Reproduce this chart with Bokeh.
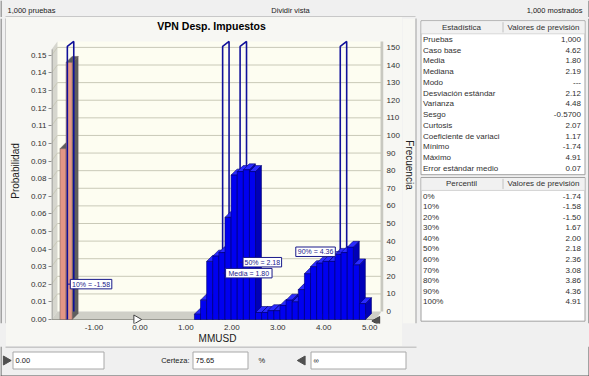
import numpy as np
from bokeh.plotting import figure
from bokeh.layouts import column, row
from bokeh.models import Range1d, LinearAxis, FixedTicker, NumeralTickFormatter
from bokeh.embed import file_html
from bokeh.resources import INLINE
from bokeh.core.properties import value

# ---------------- data ----------------
top_left_text = "1,000 pruebas"
top_mid_text = "Dividir vista"
top_right_text = "1,000 mostrados"
chart_title = "VPN Desp. Impuestos"
x_label = "MMUSD"
y_label = "Probabilidad"
y2_label = "Frecuencia"

n_trials = 1000
range_min = -1.74
range_max = 4.91
bin_counts = [97, 146,
              0, 0, 0, 0, 0, 0, 0, 0, 0, 0, 0, 0, 0, 0, 0, 0, 0, 0, 0, 0,
              3, 11, 33, 36, 38, 58, 82, 84, 85, 84,
              4, 4, 5, 5, 8, 11, 10, 17, 26, 30, 32, 33, 33, 37, 38, 41, 31, 9]
certainty_lower = 0.00
certainty_lower_text = "0.00"
certainty_upper_text = "\u221e"
certainty_label = "Certeza:"
certainty_pct = "75.65"

marker_names = ["10%", "Media", "50%", "90%"]
marker_values = [-1.58, 1.80, 2.18, 4.36]
marker_texts = ["10% = -1.58", "Media = 1.80", "50% = 2.18", "90% = 4.36"]

x_ticks = [-1, 0, 1, 2, 3, 4, 5]
prob_ticks = [0.00, 0.01, 0.02, 0.03, 0.04, 0.05, 0.06, 0.07, 0.08, 0.09, 0.10, 0.11, 0.12, 0.13, 0.14, 0.15]
freq_ticks = [0, 10, 20, 30, 40, 50, 60, 70, 80, 90, 100, 110, 120, 130, 140, 150]

stat_header = ["Estadística", "Valores de previsión"]
stat_names = ["Pruebas", "Caso base", "Media", "Mediana", "Modo", "Desviación estándar", "Varianza",
              "Sesgo", "Curtosis", "Coeficiente de variaci", "Mínimo", "Máximo", "Error estándar medio"]
stat_values = ["1,000", "4.62", "1.80", "2.19", "---", "2.12", "4.48", "-0.5700", "2.07", "1.17",
               "-1.74", "4.91", "0.07"]
pct_header = ["Percentil", "Valores de previsión"]
pct_names = ["0%", "10%", "20%", "30%", "40%", "50%", "60%", "70%", "80%", "90%", "100%"]
pct_values = ["-1.74", "-1.58", "-1.50", "1.67", "2.00", "2.18", "2.36", "3.08", "3.86", "4.36", "4.91"]

# ---------------- style / layout ----------------
FONT = "Liberation Sans"
WIN_BG = "#f0f0f0"
PANEL_BG = "#f7f7f3"
EDGE = "#555555"
W, H = 589, 376
TOP_H = 17
PANEL_B = 346
CH_X0, CH_X1 = 6, 402
FRAME_L, FRAME_R, FRAME_T, FRAME_B = 47, 383, 18, 324


def lin(px, a_px, a_v, b_px, b_v):
    return a_v + (px - a_px) * (b_v - a_v) / (b_px - a_px)


def xv(px):
    return lin(px, 90, -1, 369, 5)


def yv(px):
    return lin(px, 320, 0, 55, 0.15)


PPX = (369 - 90) / 6.0          # px per x unit
PPY = (320 - 55) / 0.15         # px per probability unit
x_start, x_end = xv(FRAME_L), xv(FRAME_R)
y_start, y_end = yv(FRAME_B), yv(FRAME_T)
f_start, f_end = lin(FRAME_B, 312, 0, 47, 150), lin(FRAME_T, 312, 0, 47, 150)


def chrome(w, h, x0, x1, y0, y1, bg=WIN_BG):
    f = figure(width=w, height=h, output_backend="svg", toolbar_location=None,
               x_range=Range1d(x0, x1), y_range=Range1d(y1, y0),
               x_axis_location=None, y_axis_location=None, min_border=0,
               styles={"background-color": bg})
    f.xgrid.visible = False
    f.ygrid.visible = False
    f.outline_line_color = None
    f.background_fill_color = bg
    f.border_fill_color = bg
    return f


def txt(f, xs, ys, texts, size="8px", align="left", color="#202020", style="normal", angle=0):
    f.text(x=xs, y=ys, text=texts, text_font=value(FONT), text_font_size=size,
           text_align=align, text_baseline="middle", text_color=color,
           text_font_style=style, angle=angle)


# ---------------- top strip ----------------
top = chrome(W, TOP_H, 0, W, 0, TOP_H)
txt(top, [7, 290, 582], [9.5, 9.5, 9.5], [top_left_text, top_mid_text, top_right_text],
    size="7.5px", align=["left", "center", "right"])
top.segment(x0=[5], y0=[16.5], x1=[415], y1=[16.5], line_color="#a0a0a0", line_width=1)
top.segment(x0=[0.5, 588.5], y0=[0, 0], x1=[0.5, 588.5], y1=[TOP_H, TOP_H], line_color=EDGE)

MID_H = PANEL_B - TOP_H

# ---------------- left spacer ----------------
lsp = chrome(CH_X0, MID_H, 0, CH_X0, TOP_H, PANEL_B)
lsp.segment(x0=[5.5], y0=[16.5], x1=[5.5], y1=[PANEL_B], line_color="#a0a0a0")
lsp.segment(x0=[0.5], y0=[TOP_H], x1=[0.5], y1=[PANEL_B], line_color=EDGE)

# ---------------- chart ----------------
p = figure(width=CH_X1 - CH_X0, height=MID_H, output_backend="svg", toolbar_location=None,
           x_range=Range1d(x_start, x_end), y_range=Range1d(y_start, y_end),
           x_axis_location=None, y_axis_location=None,
           min_border_left=FRAME_L - CH_X0, min_border_right=CH_X1 - FRAME_R,
           min_border_top=FRAME_T - TOP_H, min_border_bottom=PANEL_B - FRAME_B,
           styles={"background-color": PANEL_BG})
p.extra_y_ranges = {"freq": Range1d(f_start, f_end)}
p.xgrid.visible = False
p.ygrid.visible = False
p.outline_line_color = None
p.background_fill_color = PANEL_BG
p.border_fill_color = PANEL_BG

DXW, DYW = 6 / PPX, 8 / PPY        # wall depth
DXB, DYB = 6 / PPX, 6 / PPY        # bar depth
DXM = 6.5 / PPX
X0 = x_start
XRB = xv(381)
XRF = XRB - DXW
YTB = yv(41)
YTF = YTB - DYW

p.text(x=[xv(209)], y=[yv(26)], text=[chart_title], text_font=value(FONT), text_font_size="10.5px",
       text_font_style="bold", text_align="center", text_baseline="middle", text_color="#000000")

# walls
p.quad(left=[X0 + DXW], right=[XRB], bottom=[DYW], top=[YTB], fill_color="#fdfdf1", line_color=None)
p.patch(x=[X0, X0, X0 + DXW, X0 + DXW], y=[0, YTF, YTB, DYW], fill_color="#d6d6ce", line_color=None)
p.patch(x=[X0, XRF, XRB, X0 + DXW], y=[0, 0, DYW, DYW], fill_color="#cfcfc7", line_color=None)
p.quad(left=[XRB - 1 / PPX], right=[x_end], bottom=[DYW], top=[YTB], fill_color="#c8c8c0", line_color=None)
gx, gy = [], []
for g in prob_ticks[1:]:
    gx.append([X0, X0 + DXW, XRB])
    gy.append([g, g + DYW, g + DYW])
p.multi_line(xs=gx, ys=gy, line_color="#c9c9b8", line_width=1)
p.segment(x0=[X0], y0=[0], x1=[XRF], y1=[0], line_color="#9a9a92", line_width=1)
p.segment(x0=[X0 + 0.5 / PPX], y0=[0], x1=[X0 + 0.5 / PPX], y1=[YTF], line_color="#8c8c8c", line_width=1)

edges = np.linspace(range_min, range_max, len(bin_counts) + 1)
probs = np.array(bin_counts, dtype=float) / n_trials


def bar_polys(idx, front, topc, side):
    xs, ys, fc = [], [], []
    for k in idx:
        l, r, h = edges[k], edges[k + 1], probs[k]
        xs.append([l, r, r + DXB, l + DXB]); ys.append([h, h, h + DYB, h + DYB]); fc.append(topc)
        xs.append([r, r, r + DXB, r + DXB]); ys.append([0, h, h + DYB, DYB]); fc.append(side)
        xs.append([l, r, r, l]); ys.append([0, 0, h, h]); fc.append(front)
    return dict(xs=xs, ys=ys, fc=fc)


red_idx = [k for k in range(len(bin_counts)) if bin_counts[k] > 0 and edges[k + 1] <= certainty_lower]
blue_idx = [k for k in range(len(bin_counts)) if bin_counts[k] > 0 and edges[k] >= certainty_lower]

rd = bar_polys(red_idx, "#e39686", "#5e5e5e", "#5e5e5e")
p.patches(xs="xs", ys="ys", fill_color="fc", line_color="#6a5a5a", line_width=0.5, source=rd)

# marker lines (3D panels)
mx, my = [], []
for v in marker_values:
    mx.append([v, v, v + DXM, v + DXM])
    my.append([0, yv(46), YTB, DYW])
p.multi_line(xs=mx, ys=my, line_color="#10109a", line_width=1.6)

bd = bar_polys(blue_idx, "#0000f0", "#2a2aff", "#0000b8")
p.patches(xs="xs", ys="ys", fill_color="fc", line_color="#00006e", line_width=0.6, source=bd)

# certainty grabbers
p.scatter(x=[certainty_lower - 3.5 / PPX], y=[0], marker="triangle", size=9, angle=-np.pi / 2,
          fill_color="white", line_color="#404040", line_width=1)
p.scatter(x=[XRF + 1.5 / PPX], y=[-1.5 / PPY], marker="triangle", size=9, angle=np.pi / 2,
          fill_color="#505050", line_color="#404040", line_width=1)

# marker labels (boxes drawn as glyphs)
box_dx_px = [3, 3, 3, -45]
box_w_px = [42, 47, 39, 40]
box_y_px = [284.5, 273.5, 262.5, 252]
BOX_H = 9.5
bl, br, bt, bb, tx, ty, cx0, cx1 = [], [], [], [], [], [], [], []
for v, dx, w, yp in zip(marker_values, box_dx_px, box_w_px, box_y_px):
    left = v + dx / PPX
    right = left + w / PPX
    bl.append(left); br.append(right)
    bt.append(yv(yp - BOX_H / 2)); bb.append(yv(yp + BOX_H / 2))
    tx.append((left + right) / 2); ty.append(yv(yp))
    cx0.append(v); cx1.append(left if dx > 0 else right)
p.segment(x0=cx0, y0=ty, x1=cx1, y1=ty, line_color="#10109a", line_width=1)
p.quad(left=bl, right=br, top=bt, bottom=bb, fill_color="white", line_color="#1a1a8a", line_width=1)
p.text(x=tx, y=ty, text=marker_texts, text_font=value(FONT), text_font_size="7px",
       text_color="#1a1a8a", text_align="center", text_baseline="middle")

# axes
ax_common = dict(major_label_text_font=FONT, major_label_text_font_size="8px",
                 major_label_text_color="#303030", axis_label_text_font=FONT,
                 axis_label_text_font_size="10px", axis_label_text_font_style="normal",
                 axis_label_text_color="#202020", minor_tick_line_color=None)
yax = LinearAxis(ticker=FixedTicker(ticks=prob_ticks), formatter=NumeralTickFormatter(format="0.00"),
                 axis_label=y_label, axis_line_color=None, major_tick_line_color="#8c8c8c",
                 major_tick_out=3, major_tick_in=0, major_label_standoff=2, axis_label_standoff=7,
                 **ax_common)
p.add_layout(yax, "left")
y2ax = LinearAxis(y_range_name="freq", ticker=FixedTicker(ticks=freq_ticks),
                  formatter=NumeralTickFormatter(format="0"), axis_line_color=None,
                  major_tick_line_color=None, major_tick_out=0, major_tick_in=0,
                  major_label_standoff=3, **ax_common)
p.add_layout(y2ax, "right")
xax = LinearAxis(ticker=FixedTicker(ticks=x_ticks), formatter=NumeralTickFormatter(format="0.00"),
                 axis_label=x_label, axis_line_color=None, major_tick_line_color="#8c8c8c",
                 major_tick_out=0, major_tick_in=0, major_label_standoff=1, axis_label_standoff=0,
                 **ax_common)
p.add_layout(xax, "below")

# ---------------- right side (tables) ----------------
RX0 = CH_X1
rf = chrome(W - RX0, MID_H, RX0, W, TOP_H, PANEL_B)
rf.quad(left=[RX0], right=[415], bottom=[TOP_H], top=[PANEL_B], fill_color=PANEL_BG, line_color=None)
rf.segment(x0=[415.5], y0=[16.5], x1=[415.5], y1=[PANEL_B], line_color="#a0a0a0")
rf.segment(x0=[588.5], y0=[TOP_H], x1=[588.5], y1=[PANEL_B], line_color=EDGE)
txt(rf, [409], [175], [y2_label], size="10px", align="center", angle=-np.pi / 2)


def table(f, top_y, bottom_y, header, names, values, row_h, first_y):
    f.quad(left=[420.5], right=[584.5], top=[top_y + 0.5], bottom=[bottom_y + 0.5],
           fill_color="white", line_color="#a0a0a0", line_width=1)
    f.quad(left=[421], right=[584], top=[top_y + 1], bottom=[top_y + 14], fill_color="#f1f1f1", line_color=None)
    f.segment(x0=[421], y0=[top_y + 14.5], x1=[584], y1=[top_y + 14.5], line_color="#d5d5d5")
    f.segment(x0=[502.5], y0=[top_y + 2], x1=[502.5], y1=[top_y + 13], line_color="#c0c0c0")
    txt(f, [461, 543], [top_y + 7.5] * 2, header, size="8px", align="center", color="#303030")
    ys = [first_y + row_h * i for i in range(len(names))]
    txt(f, [422.5] * len(names), ys, names, size="8px", color="#303030")
    txt(f, [580.5] * len(values), ys, values, size="8px", align="right", color="#303030")


table(rf, 19, 185, stat_header, stat_names, stat_values, 11.6, 39.5)
table(rf, 188, 343, pct_header, pct_names, pct_values, 11.4, 208.5)

# ---------------- bottom bar ----------------
bf = chrome(W, H - PANEL_B, 0, W, PANEL_B, H)
bf.segment(x0=[5], y0=[PANEL_B + 0.5], x1=[416], y1=[PANEL_B + 0.5], line_color="#a0a0a0")
bf.segment(x0=[0.5, 588.5, 0], y0=[PANEL_B, PANEL_B, 375.5], x1=[0.5, 588.5, W], y1=[H, H, 375.5],
           line_color=EDGE)
bf.quad(left=[12.5, 192.5, 310.5], right=[103.5, 247.5, 405.5], top=[351.5] * 3, bottom=[368.5] * 3,
        fill_color="white", line_color="#a8a8a8")
bf.scatter(x=[5.5, 302], y=[360, 360], marker="triangle", size=9, angle=[-np.pi / 2, np.pi / 2],
           fill_color="#505050", line_color="#505050")
txt(bf, [15, 189, 195, 258, 313], [360] * 5,
    [certainty_lower_text, certainty_label, certainty_pct, "%", certainty_upper_text],
    size="7.5px", align=["left", "right", "left", "left", "left"], color="#202020")

layout = column(top, row(lsp, p, rf), bf)
open("out.html", "w").write(file_html(layout, INLINE))
